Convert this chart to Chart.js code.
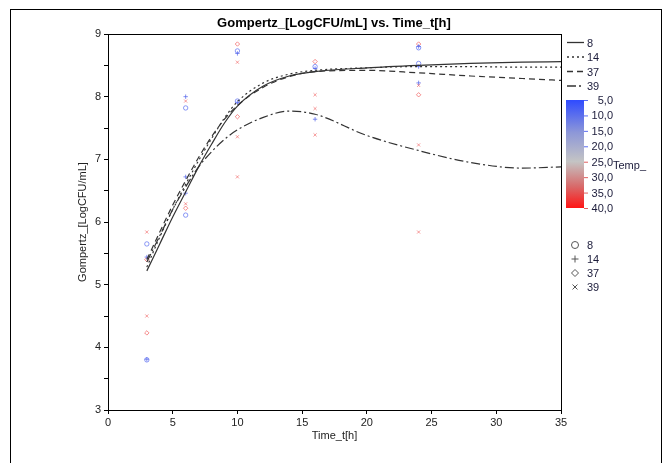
<!DOCTYPE html>
<html>
<head>
<meta charset="utf-8">
<script src="https://cdn.jsdelivr.net/npm/chart.js@4"></script>
<style>
  body { margin: 0; background: #fff; }
  #wrap { width: 670px; height: 463px; position: relative; }
</style>
</head>
<body>
<div id="wrap"><canvas id="gompertzChart" width="670" height="463"></canvas></div>
<script>
// fitted curves
const curveTime = [3, 4, 5, 6, 7, 8, 9, 10, 12, 14, 16, 20, 24, 28, 32, 35];
const fit8  = [5.22, 5.65, 6.08, 6.48, 6.88, 7.24, 7.58, 7.85, 8.17, 8.33, 8.40, 8.46, 8.50, 8.53, 8.55, 8.56];
const fit14 = [5.28, 5.76, 6.20, 6.60, 6.98, 7.33, 7.66, 7.92, 8.22, 8.36, 8.42, 8.46, 8.48, 8.48, 8.47, 8.47];
const fit37 = [5.40, 5.84, 6.27, 6.66, 7.03, 7.36, 7.64, 7.86, 8.15, 8.32, 8.40, 8.42, 8.38, 8.33, 8.29, 8.26];
const fit39 = [5.36, 5.78, 6.20, 6.56, 6.88, 7.12, 7.32, 7.47, 7.67, 7.77, 7.72, 7.38, 7.14, 6.95, 6.86, 6.88];

// observations
const obsTime8  = [3, 3, 6, 6, 10, 10, 16, 24, 24];
const obsLog8   = [5.65, 3.80, 7.82, 6.11, 8.73, 7.93, 8.48, 8.78, 8.53];
const obsTime14 = [3, 3, 6, 6, 6, 10, 10, 16, 16, 24, 24, 24];
const obsLog14  = [5.44, 3.81, 8.00, 6.72, 6.46, 8.69, 7.91, 8.45, 7.64, 8.80, 8.48, 8.22];
const obsTime37 = [3, 3, 6, 10, 10, 16, 24, 24];
const obsLog37  = [5.40, 4.23, 6.22, 8.84, 7.68, 8.56, 8.84, 8.03];
const obsTime39 = [3, 3, 6, 6, 10, 10, 10, 16, 16, 16, 24, 24, 24];
const obsLog39  = [5.84, 4.50, 7.93, 6.29, 8.55, 7.36, 6.72, 8.03, 7.81, 7.39, 8.18, 7.23, 5.84];

const tempLabels = ['5,0', '10,0', '15,0', '20,0', '25,0', '30,0', '35,0', '40,0'];
const seriesNames = ['8', '14', '37', '39'];

const lineDash = [[], [2, 3], [6, 4], [9, 3, 2, 3]];
const pointStyles = ['circle', 'cross', 'rectRot', 'crossRot'];
const pointColors = ['rgba(80,100,240,0.65)', 'rgba(90,105,235,0.75)', 'rgba(240,80,80,0.65)', 'rgba(240,90,90,0.6)'];

function pts(xs, ys) {
    return xs.map((x, i) => ({ x: x, y: ys[i] }));
}

const fits = [fit8, fit14, fit37, fit39];
const obs = [[obsTime8, obsLog8], [obsTime14, obsLog14], [obsTime37, obsLog37], [obsTime39, obsLog39]];

const datasets = [];
fits.forEach((f, i) => {
    datasets.push({
        type: 'line',
        label: 'fit ' + seriesNames[i],
        data: pts(curveTime, f),
        borderColor: '#333',
        borderWidth: 1.2,
        borderDash: lineDash[i],
        pointRadius: 0,
        fill: false,
        cubicInterpolationMode: 'monotone'
    });
});
obs.forEach((o, i) => {
    datasets.push({
        type: 'scatter',
        label: 'obs ' + seriesNames[i],
        data: pts(o[0], o[1]),
        pointStyle: pointStyles[i],
        pointRadius: 2.2,
        borderWidth: 1,
        borderColor: pointColors[i],
        backgroundColor: 'rgba(0,0,0,0)'
    });
});

const extras = {
    id: 'extras',
    afterDraw(chart) {
        const ctx = chart.ctx;
        const a = chart.chartArea;
        ctx.save();
        // plot box
        ctx.strokeStyle = '#000';
        ctx.lineWidth = 1;
        ctx.strokeRect(a.left + 0.5, a.top + 0.5, a.right - a.left, a.bottom - a.top);
        // outer frame
        ctx.strokeRect(10.5, 9.5, 651, 480);
        // title
        ctx.fillStyle = '#000';
        ctx.font = 'bold 13px "Liberation Sans", Arial';
        ctx.textAlign = 'center';
        ctx.textBaseline = 'middle';
        ctx.fillText('Gompertz_[LogCFU/mL] vs. Time_t[h]', 334, 23);

        // line legend
        ctx.font = '11px "Liberation Sans", Arial';
        ctx.textAlign = 'left';
        seriesNames.forEach((n, i) => {
            const y = 42.5 + i * 14.5;
            ctx.strokeStyle = '#333';
            ctx.lineWidth = 1.3;
            ctx.setLineDash(lineDash[i]);
            ctx.beginPath();
            ctx.moveTo(567, y);
            ctx.lineTo(584, y);
            ctx.stroke();
            ctx.setLineDash([]);
            ctx.fillStyle = '#1b1b3a';
            ctx.fillText(n, 587, y + 1);
        });

        // colour bar
        const top = 100, bot = 208;
        const g = ctx.createLinearGradient(0, top, 0, bot);
        g.addColorStop(0, '#2f4bff');
        g.addColorStop(0.3, '#8d97d8');
        g.addColorStop(0.57, '#c4c4c4');
        g.addColorStop(0.8, '#d86a6a');
        g.addColorStop(1, '#ff1414');
        ctx.fillStyle = g;
        ctx.fillRect(566, top, 18, bot - top);
        ctx.textAlign = 'right';
        ctx.lineWidth = 1;
        tempLabels.forEach((t, i) => {
            const y = top + i * (bot - top) / (tempLabels.length - 1);
            ctx.strokeStyle = i < 4 ? '#5a6cf0' : '#e06060';
            ctx.beginPath();
            ctx.moveTo(584, y + 0.5);
            ctx.lineTo(588, y + 0.5);
            ctx.stroke();
            ctx.fillStyle = '#1b1b3a';
            ctx.fillText(t, 613, y + 1);
        });
        ctx.textAlign = 'left';
        ctx.fillText('Temp_', 613, 166);

        // marker legend
        seriesNames.forEach((n, i) => {
            const y = 245 + i * 14;
            ctx.strokeStyle = '#555';
            ctx.fillStyle = 'rgba(0,0,0,0)';
            ctx.lineWidth = 1;
            Chart.helpers.drawPoint(ctx, {
                pointStyle: pointStyles[i], radius: 3.5, borderWidth: 1
            }, 575, y);
            ctx.fillStyle = '#1b1b3a';
            ctx.fillText(n, 587, y + 1);
        });
        ctx.restore();
    }
};

const ctxG = document.getElementById('gompertzChart').getContext('2d');
const gompertzChart = new Chart(ctxG, {
    data: { datasets: datasets },
    options: {
        responsive: false,
        animation: false,
        layout: { padding: { left: 0, right: 109, top: 34, bottom: 0 } },
        plugins: {
            legend: { display: false },
            tooltip: { enabled: false }
        },
        scales: {
            x: {
                type: 'linear',
                min: 0,
                max: 35,
                afterFit(s) { s.height = 53; },
                ticks: { stepSize: 5, color: '#222', padding: 2, font: { size: 11, family: '"Liberation Sans", Arial' } },
                grid: { drawOnChartArea: false, tickLength: 4, color: '#000' },
                border: { color: '#000' },
                title: { display: true, text: 'Time_t[h]', color: '#222', font: { size: 11, family: '"Liberation Sans", Arial' }, padding: { bottom: 20 } }
            },
            y: {
                type: 'linear',
                min: 3,
                max: 9,
                afterFit(s) { s.width = 108; },
                ticks: {
                    stepSize: 0.5,
                    autoSkip: false,
                    color: '#222',
                    padding: 3,
                    font: { size: 11, family: '"Liberation Sans", Arial' },
                    callback: v => Number.isInteger(v) ? v : ''
                },
                grid: { drawOnChartArea: false, tickLength: 4, color: '#000' },
                border: { color: '#000' },
                title: { display: true, text: 'Gompertz_[LogCFU/mL]', color: '#222', font: { size: 11, family: '"Liberation Sans", Arial' }, padding: { top: 76 } }
            }
        }
    },
    plugins: [extras]
});
</script>
</body>
</html>
